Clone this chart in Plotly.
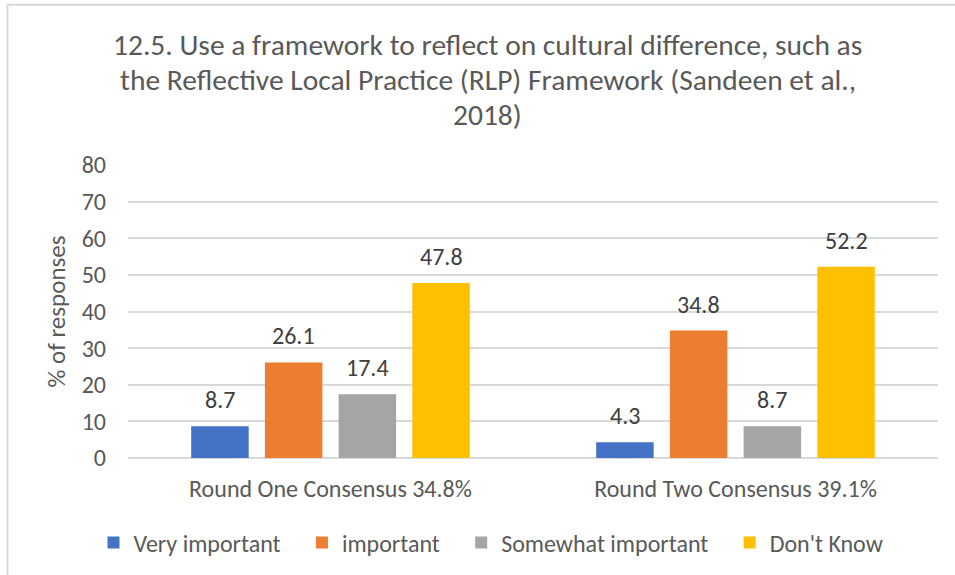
import plotly.graph_objects as go

# Survey item and response data
title_lines = [
    "12.5. Use a framework to reflect on cultural difference, such as",
    "the Reflective Local Practice (RLP) Framework (Sandeen et al.,",
    "2018)",
]
rounds = ["Round One Consensus 34.8%", "Round Two Consensus 39.1%"]
series_names = ["Very important", "important", "Somewhat important", "Don't Know"]
very_important = [8.7, 4.3]
important = [26.1, 34.8]
somewhat_important = [17.4, 8.7]
dont_know = [47.8, 52.2]
y_ticks = [0, 10, 20, 30, 40, 50, 60, 70, 80]

series_values = [very_important, important, somewhat_important, dont_know]
colors = ["#4472C4", "#ED7D31", "#A5A5A5", "#FFC000"]

FONT = "Carlito, Calibri, Lato, sans-serif"
TEXT_GREY = "#595959"
LABEL_GREY = "#404040"

# canvas and plot-area geometry (pixels)
W, H = 955, 575
L, R, T, B = 128, 17, 165, 116.5
pw, ph = W - L - R, H - T - B
BARGAP, GROUPGAP = 0.272, 0.22


def px_x(px):
    return (px - L) / pw


def px_y(py):
    return (H - py - B) / ph


fig = go.Figure()
n_series = len(series_names)
for i, (name, vals, col) in enumerate(zip(series_names, series_values, colors)):
    # a little trailing room after each legend entry except the last
    pad = "\u00a0" * 3 if i < n_series - 1 else ""
    fig.add_trace(go.Bar(
        name=name + pad,
        x=rounds,
        y=vals,
        marker=dict(color=col, line=dict(width=0)),
        cliponaxis=False,
    ))

# value labels sitting above each bar
cat_px = pw / len(rounds)
slot_px = (1 - BARGAP) * cat_px / n_series
for i, vals in enumerate(series_values):
    for cat, v in zip(rounds, vals):
        fig.add_annotation(
            x=cat, y=v, xref="x", yref="y",
            text=f"{v:.1f}", showarrow=False,
            xanchor="center", yanchor="bottom",
            xshift=(i - (n_series - 1) / 2) * slot_px, yshift=10,
            font=dict(family=FONT, size=24, color=LABEL_GREY),
        )

# three-line chart title
for line, cy in zip(title_lines, [45, 80, 115]):
    fig.add_annotation(
        x=px_x(487.5), y=px_y(cy), xref="paper", yref="paper",
        text=line, showarrow=False, xanchor="center", yanchor="middle",
        font=dict(family=FONT, size=29.5, color=TEXT_GREY),
    )

# light outer frame around the chart
fig.add_shape(
    type="rect", xref="paper", yref="paper",
    x0=px_x(7.5), x1=px_x(W + 10),
    y0=px_y(H + 10), y1=px_y(4.5),
    line=dict(color="#D9D9D9", width=2), fillcolor="rgba(0,0,0,0)",
    layer="below",
)

fig.update_layout(
    width=W, height=H,
    margin=dict(l=L, r=R, t=T, b=B, pad=0),
    paper_bgcolor="white", plot_bgcolor="white",
    font=dict(family=FONT, color=TEXT_GREY),
    barmode="group",
    bargap=BARGAP,
    bargroupgap=GROUPGAP,
    showlegend=True,
    xaxis=dict(
        tickfont=dict(family=FONT, size=24, color=TEXT_GREY),
        showline=False, ticks="", showgrid=False,
        ticklabelstandoff=14, automargin=False,
    ),
    yaxis=dict(
        range=[0, 80],
        tickvals=y_ticks,
        tickfont=dict(family=FONT, size=24, color=TEXT_GREY),
        gridcolor="#D9D9D9", gridwidth=1.5,
        zeroline=True, zerolinecolor="#D9D9D9", zerolinewidth=1.5,
        showline=False, ticks="", ticklen=0,
        ticklabelstandoff=21, automargin=False,
        title=dict(text="% of responses",
                   font=dict(family=FONT, size=25, color=TEXT_GREY),
                   standoff=8),
    ),
    legend=dict(
        orientation="h",
        x=491 / W, xref="container", xanchor="center",
        y=1 - 543 / H, yref="container", yanchor="middle",
        font=dict(family=FONT, size=24, color=TEXT_GREY),
        itemwidth=30,
        traceorder="normal",
    ),
)

fig.write_html("out.html")
